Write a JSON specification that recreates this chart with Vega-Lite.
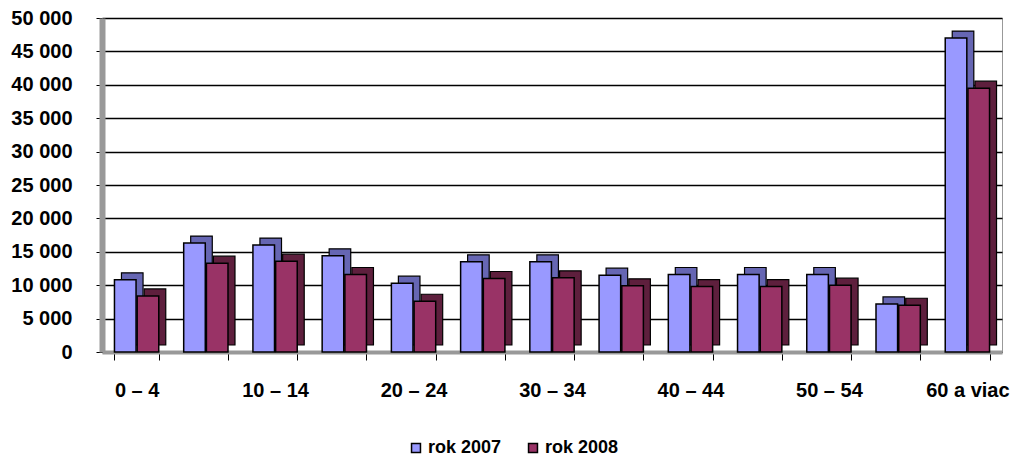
{
  "$schema": "https://vega.github.io/schema/vega-lite/v6.json",
  "width": 900,
  "height": 334,
  "autosize": {"type": "none"},
  "padding": {"left": 102, "top": 18, "right": 8, "bottom": 107},
  "background": "white",
  "data": {
    "values": [
      {"vek": "0 – 4", "rok": "rok 2007", "pocet": 10800},
      {"vek": "0 – 4", "rok": "rok 2008", "pocet": 8400},
      {"vek": "5 – 9", "rok": "rok 2007", "pocet": 16300},
      {"vek": "5 – 9", "rok": "rok 2008", "pocet": 13300},
      {"vek": "10 – 14", "rok": "rok 2007", "pocet": 16000},
      {"vek": "10 – 14", "rok": "rok 2008", "pocet": 13600},
      {"vek": "15 – 19", "rok": "rok 2007", "pocet": 14400},
      {"vek": "15 – 19", "rok": "rok 2008", "pocet": 11600},
      {"vek": "20 – 24", "rok": "rok 2007", "pocet": 10300},
      {"vek": "20 – 24", "rok": "rok 2008", "pocet": 7600},
      {"vek": "25 – 29", "rok": "rok 2007", "pocet": 13500},
      {"vek": "25 – 29", "rok": "rok 2008", "pocet": 11000},
      {"vek": "30 – 34", "rok": "rok 2007", "pocet": 13500},
      {"vek": "30 – 34", "rok": "rok 2008", "pocet": 11100},
      {"vek": "35 – 39", "rok": "rok 2007", "pocet": 11500},
      {"vek": "35 – 39", "rok": "rok 2008", "pocet": 9900},
      {"vek": "40 – 44", "rok": "rok 2007", "pocet": 11600},
      {"vek": "40 – 44", "rok": "rok 2008", "pocet": 9800},
      {"vek": "45 – 49", "rok": "rok 2007", "pocet": 11600},
      {"vek": "45 – 49", "rok": "rok 2008", "pocet": 9800},
      {"vek": "50 – 54", "rok": "rok 2007", "pocet": 11600},
      {"vek": "50 – 54", "rok": "rok 2008", "pocet": 10000},
      {"vek": "55 – 59", "rok": "rok 2007", "pocet": 7200},
      {"vek": "55 – 59", "rok": "rok 2008", "pocet": 7000},
      {"vek": "60 a viac", "rok": "rok 2007", "pocet": 47000},
      {"vek": "60 a viac", "rok": "rok 2008", "pocet": 39500}
    ]
  },
  "encoding": {
    "x": {
      "field": "vek",
      "type": "nominal",
      "sort": null,
      "title": null,
      "scale": {"paddingInner": 0.36, "paddingOuter": 0.18},
      "axis": {
        "labelAngle": 0,
        "labelFont": "Liberation Sans",
        "labelFontSize": 20,
        "labelFontWeight": "bold",
        "labelColor": "black",
        "labelPadding": 20,
        "labelExpr": "indexof(['0 – 4','10 – 14','20 – 24','30 – 34','40 – 44','50 – 54','60 a viac'], datum.label) >= 0 ? datum.label : ''",
        "domainColor": "#999999",
        "domainWidth": 4,
        "tickBand": "extent",
        "tickColor": "black",
        "tickSize": 8,
        "grid": false
      }
    },
    "y": {
      "field": "pocet",
      "type": "quantitative",
      "title": null,
      "scale": {"domain": [0, 50000]},
      "axis": {
        "values": [0, 5000, 10000, 15000, 20000, 25000, 30000, 35000, 40000, 45000, 50000],
        "labelExpr": "replace(format(datum.value, ','), ',', ' ')",
        "labelFont": "Liberation Sans",
        "labelFontSize": 20,
        "labelFontWeight": "bold",
        "labelColor": "black",
        "labelPadding": 24,
        "grid": true,
        "gridColor": "black",
        "gridWidth": 1.5,
        "gridOpacity": 1,
        "domainColor": "#999999",
        "domainWidth": 6,
        "tickColor": "black",
        "tickSize": 6
      }
    }
  },
  "layer": [
    {
      "mark": {"type": "bar", "stroke": "black", "strokeWidth": 1.2, "yOffset": -7},
      "encoding": {
        "xOffset": {"field": "rok", "type": "nominal", "scale": {"range": [7, 51.3], "paddingInner": 0.05}},
        "fill": {
          "condition": {"test": "datum.rok == 'rok 2007'", "value": "#6666B3"},
          "value": "#5E1F3D"
        }
      }
    },
    {
      "mark": {"type": "bar", "stroke": "black", "strokeWidth": 1.5},
      "encoding": {
        "xOffset": {"field": "rok", "type": "nominal", "scale": {"paddingInner": 0.05}},
        "color": {
          "field": "rok",
          "type": "nominal",
          "scale": {"domain": ["rok 2007", "rok 2008"], "range": ["#9999FF", "#993366"]},
          "legend": {
            "title": null,
            "orient": "none",
            "direction": "horizontal",
            "legendX": 305,
            "legendY": 421,
            "symbolType": "square",
            "symbolSize": 80,
            "symbolStrokeColor": "black",
            "symbolStrokeWidth": 1.5,
            "labelFont": "Liberation Sans",
            "labelFontSize": 18,
            "labelFontWeight": "bold",
            "labelColor": "black",
            "columnPadding": 22,
            "labelOffset": 3
          }
        }
      }
    }
  ],
  "resolve": {"scale": {"xOffset": "independent"}},
  "config": {"view": {"stroke": "#999999", "strokeWidth": 1}}
}
